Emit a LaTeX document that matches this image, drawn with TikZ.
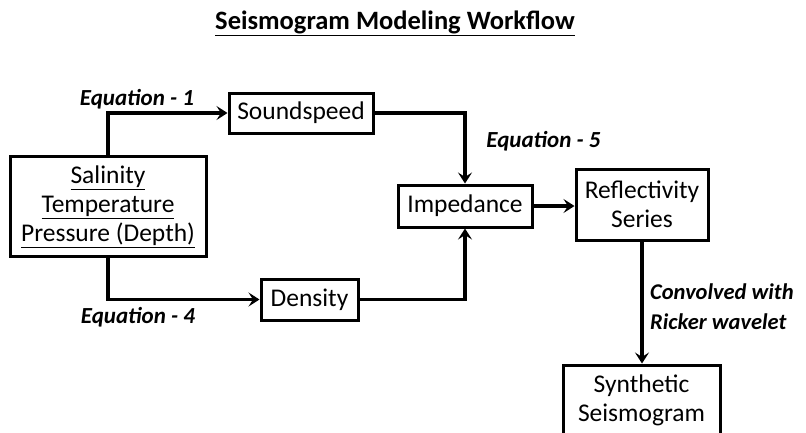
\documentclass[tikz,border=0pt]{standalone}
\usepackage{fontspec}
\setmainfont{Carlito}
\usetikzlibrary{arrows.meta}
\begin{document}
\begin{tikzpicture}[x=1pt,y=-1pt,
  box/.style={draw=black,line width=3pt,fill=white,inner sep=0pt,align=center,
    font=\fontsize{25.5}{29}\selectfont},
  flow/.style={line width=3.8pt,-{Stealth[length=11pt,width=14pt,inset=4.5pt]}},
  eqlabel/.style={inner sep=0pt,font=\fontsize{23}{30}\selectfont\bfseries\itshape}]
\clip (0,0) rectangle (806,432);
\fill[white] (0,0) rectangle (806,432);

% title
\node[inner sep=0pt,font=\fontsize{26.5}{30}\selectfont\bfseries] (title) at (395,23)
  {\underline{Seismogram Modeling Workflow}};

% process boxes
\node[box,minimum width=196,minimum height=100] (inputs) at (108,206.5)
  {\underline{Salinity}\\\underline{Temperature}\\\underline{Pressure (Depth)}};
\node[box,minimum width=144,minimum height=40] (sound) at (301,113) {Soundspeed};
\node[box,minimum width=97,minimum height=41] (dens) at (309.5,299.5) {Density};
\node[box,minimum width=134,minimum height=42] (imp) at (465,206) {Impedance};
\node[box,minimum width=132,minimum height=71] (refl) at (642,204.5) {Reflectivity\\Series};
\node[box,minimum width=157,minimum height=71] (syn) at (641.5,400.5) {Synthetic\\Seismogram};

% connectors
\draw[flow] (inputs.north) |- (sound.west);
\draw[flow] (inputs.south) |- (dens.west);
\draw[flow] (sound.east) -| (imp.north);
\draw[flow] (dens.east) -| (imp.south);
\draw[flow] (imp.east) -- (refl.west |- imp.east);
\draw[flow] (refl.south) -- (refl.south |- syn.north);

% equation labels
\node[eqlabel] (eq1) at (137,99) {Equation - 1};
\node[eqlabel] (eq4) at (138,317) {Equation - 4};
\node[eqlabel] (eq5) at (543.5,141) {Equation - 5};
\node[eqlabel,font=\fontsize{22.5}{30}\selectfont\bfseries\itshape,align=left,anchor=west]
  (conv) at (650,307) {Convolved with\\Ricker wavelet};
\end{tikzpicture}
\end{document}
